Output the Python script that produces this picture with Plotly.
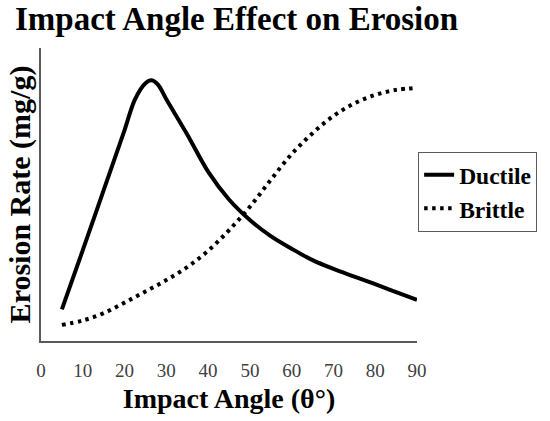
import plotly.graph_objects as go

# Impact angle (degrees) and erosion rate (relative units)
ductile_x = [5, 10, 15, 20, 22.5, 25, 26.5, 28, 30, 35, 40, 45, 50, 55, 60, 65, 70, 75, 80, 85, 90]
ductile_y = [10.8, 31, 51.5, 72, 82.5, 88, 89, 87.5, 82.5, 70.5, 57.8, 48.3, 41.3, 35.8, 31.5, 27.6, 24.6, 22, 19.4, 16.7, 14]

brittle_x = [5, 10, 15, 20, 25, 30, 35, 40, 45, 50, 55, 60, 65, 70, 75, 80, 85, 90]
brittle_y = [5.5, 7, 9.5, 13.1, 16.9, 20.8, 25.2, 30.8, 37.8, 45.8, 55, 63.8, 70.9, 76.8, 81.1, 84, 85.7, 86.4]

x_ticks = [0, 10, 20, 30, 40, 50, 60, 70, 80, 90]

SERIF = "Liberation Serif, Times New Roman, serif"

fig = go.Figure()
fig.add_trace(go.Scatter(
    x=ductile_x, y=ductile_y, mode="lines", name="<b>Ductile</b>",
    line=dict(color="black", width=4, shape="spline", smoothing=1.0),
))
fig.add_trace(go.Scatter(
    x=brittle_x, y=brittle_y, mode="lines", name="<b>Brittle</b>",
    line=dict(color="black", width=4, dash="3.5px,4.5px", shape="spline", smoothing=1.0),
))

fig.update_layout(
    width=550, height=421,
    margin=dict(l=41, r=133, t=48, b=77),
    paper_bgcolor="white", plot_bgcolor="white",
    font=dict(family=SERIF, color="black"),
    title=dict(text="<b>Impact Angle Effect on Erosion</b>", x=15/550, xanchor="left",
               y=1 - 18/421, yanchor="middle", font=dict(size=33, family=SERIF, color="black")),
    showlegend=True,
    legend=dict(x=1.003, y=0.645, xanchor="left", yanchor="top",
                bordercolor="#595959", borderwidth=1, bgcolor="white",
                font=dict(size=23.5, family=SERIF, color="black"),
                tracegroupgap=0, itemwidth=30),
)
fig.update_xaxes(
    range=[0, 90], tickvals=x_ticks, ticktext=[str(t) for t in x_ticks],
    showline=True, linecolor="#595959", linewidth=1.5, showgrid=False, zeroline=False,
    ticks="", tickfont=dict(size=19, family=SERIF, color="#404040"),
    ticklabelstandoff=11,
    title=dict(text="<b>Impact Angle (θ°)</b>", font=dict(size=28, family=SERIF, color="black"), standoff=9),
)
fig.update_yaxes(
    range=[0, 100], showline=True, linecolor="#595959", linewidth=1.5, showgrid=False,
    zeroline=False, showticklabels=False, ticks="",
    title=dict(text="<b>Erosion Rate (mg/g)</b>", font=dict(size=30, family=SERIF, color="black"), standoff=0),
)

fig.write_html("out.html")
